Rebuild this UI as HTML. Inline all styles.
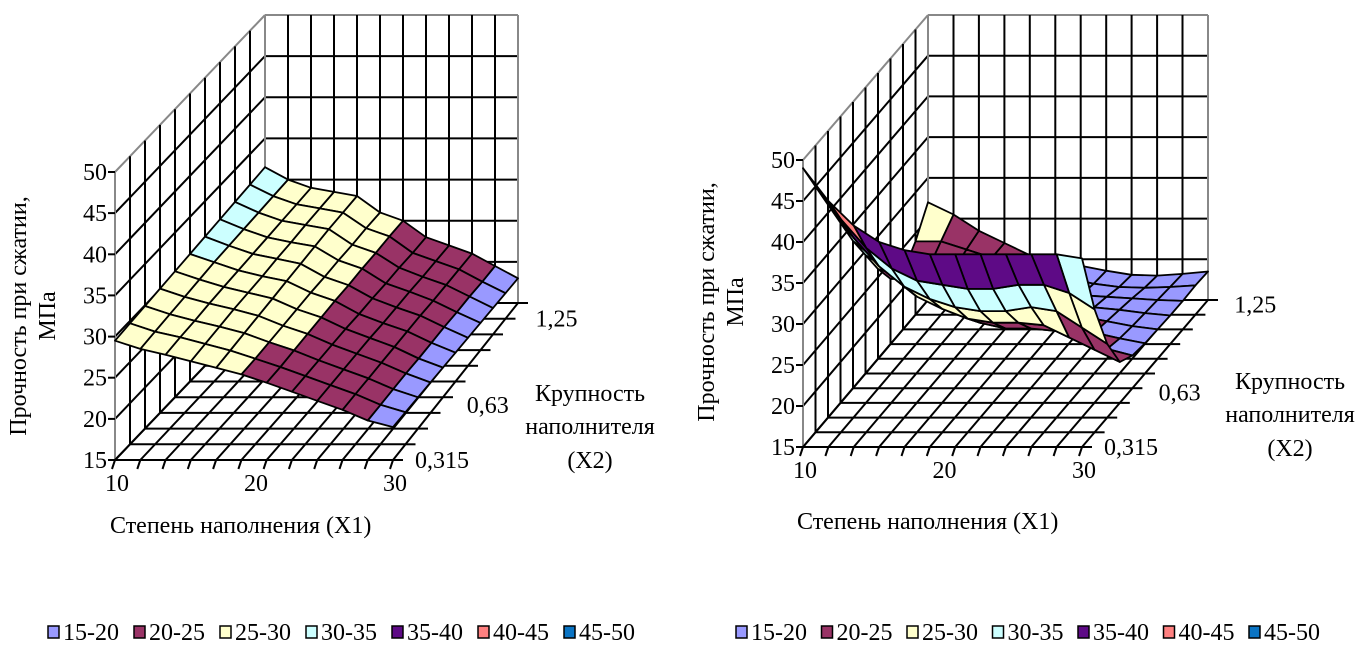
<!DOCTYPE html>
<html><head><meta charset="utf-8">
<style>
html,body{margin:0;padding:0;background:#fff;}
svg{display:block;}
text{font-family:"Liberation Serif","DejaVu Serif",serif;fill:#000;}
</style></head>
<body>
<svg id="root" width="1367" height="654" viewBox="0 0 1367 654" xmlns="http://www.w3.org/2000/svg">
<g id="left"></g>
<g id="right"></g>
</svg>
<script>
// ---- data ----
const zTicks = [15,20,25,30,35,40,45,50];
const x1Labels = ["10","20","30"];
const x2Labels = ["0,315","0,63","1,25"];
const bandLabels = ["15-20","20-25","25-30","30-35","35-40","40-45","45-50"];
const bandColors = ["#9999ff","#993366","#ffffcc","#ccffff","#5e0a86","#ff8080","#0a74c4"];
// rows: X2 from front (0,315) to back (1,25); columns: X1 from 10 to 30
const leftValues = [
 [29.5,28.5,27.8,27,26.2,25.4,24.4,23.3,22.2,21.1,19.8,19],
 [29.7,28.7,28,27.2,26.4,25.4,24.4,23.3,22.2,21.1,19.8,18.9],
 [29.9,28.9,28.1,27.4,26.6,25.5,24.5,23.3,22.2,21.1,19.8,18.8],
 [30.1,29.1,28.3,27.6,26.8,25.6,24.6,23.3,22.2,21.1,19.8,18.7],
 [30.3,29.3,28.4,27.7,27,25.7,24.7,23.3,22.2,21.1,19.7,18.6],
 [30.5,29.5,28.5,27.8,27.2,25.8,24.8,23.2,22.1,21.1,19.7,18.5],
 [30.7,29.6,28.6,28,27.4,25.8,24.8,23.2,22.1,21.1,19.7,18.4],
 [30.9,29.7,28.7,28.1,27.6,25.9,24.9,23.1,22.1,21,19.6,18.3],
 [31.1,29.8,28.8,28.3,27.8,25.9,24.9,23.1,22,21,19.6,18.2],
 [31.3,29.9,28.9,28.4,27.9,26,25,23,22,21,19.5,18.1],
 [31.5,30,29,28.5,28,26,25,23,22,21,19.5,18]
];
const rightValues = [
 [49,45,42,40,39,38.5,38.5,38.5,38.5,38.5,38.5,38],
 [45,41,37.5,35,33.5,33,32.5,32.5,33,33,32,30],
 [41,37,33.5,31,29.5,28.5,28,28,28.5,28,26,24],
 [37,33.5,30.5,28,26.5,25.3,24.8,24.8,24.5,23,21.5,20],
 [33,30.5,28,26,24.3,23,22.3,22.3,22,21,19.8,19],
 [29.5,27.5,25.5,24,22.8,21.8,21.2,21.2,20.8,20,19.3,18.7],
 [26,25,24,23,22,21.3,20.7,20.5,20.2,19.6,19,18.6],
 [23,23,22.5,22,21.3,20.7,20.2,19.8,19.5,19.2,18.8,18.5],
 [22,22.5,22.3,21.8,21,20.4,19.8,19.2,19,18.8,18.6,18.5],
 [24,24,23,22,21,20.2,19.5,18.8,18.4,18.3,18.4,18.6],
 [27,25.5,23.5,22,20.5,19.8,19.2,18.6,18.1,18,18.2,18.5]
];
const zMin = 15, zMax = 50;

const NS = "http://www.w3.org/2000/svg";
function mk(parent, tag, attrs){
  const e = document.createElementNS(NS, tag);
  for (const k in attrs) e.setAttribute(k, attrs[k]);
  parent.appendChild(e);
  return e;
}
function colorFor(v){
  let i = Math.floor((v - zMin) / 5);
  if (i < 0) i = 0; if (i > bandColors.length-1) i = bandColors.length-1;
  return bandColors[i];
}

function drawChart(g, cfg, values){
  const F0L=cfg.F0L, F0R=cfg.F0R, F1L=cfg.F1L, B0L=cfg.B0L, B0R=cfg.B0R, B1L=cfg.B1L;
  const h = [F1L[0]-F0L[0], F1L[1]-F0L[1]];
  const hb = [B1L[0]-B0L[0], B1L[1]-B0L[1]];
  function P(u,v,w){
    const fx = F0L[0]+(F0R[0]-F0L[0])*u + h[0]*w, fy = F0L[1]+(F0R[1]-F0L[1])*u + h[1]*w;
    const bx = B0L[0]+(B0R[0]-B0L[0])*u + hb[0]*w, by = B0L[1]+(B0R[1]-B0L[1])*u + hb[1]*w;
    return [fx+(bx-fx)*v, fy+(by-fy)*v];
  }
  const zw = z => (z - zMin) / (zMax - zMin);
  const nU = values[0].length - 1, nV = values.length - 1;
  const line = (a,b,stroke,sw,name) => {
    const l = mk(g,"line",{x1:a[0].toFixed(1),y1:a[1].toFixed(1),x2:b[0].toFixed(1),y2:b[1].toFixed(1),stroke:stroke,"stroke-width":sw});
    
    
    return l;
  };
  for (const z of zTicks) line(P(0,1,zw(z)),P(1,1,zw(z)),(z===zMax||z===zMin)?"#888":"#000",2,"back-wall-gridline");
  for (let i=0;i<=nU;i++) line(P(i/nU,1,0),P(i/nU,1,1),(i===0||i===nU)?"#888":"#000",2,"back-wall-gridline");
  for (const z of zTicks) line(P(0,0,zw(z)),P(0,1,zw(z)),z===zMax?"#888":"#000",2,"side-wall-gridline");
  for (let j=0;j<=nV;j++) line(P(0,j/nV,0),P(0,j/nV,1),(j===0||j===nV)?"#888":"#000",2,"side-wall-gridline");
  for (let i=0;i<=nU;i++) line(P(i/nU,0,0),P(i/nU,1,0),"#000",2,"floor-gridline");
  for (let j=0;j<=nV;j++) line(P(0,j/nV,0),P(1,j/nV,0),"#000",2,"floor-gridline");
  for (const z of zTicks){ const p=P(0,0,zw(z)); line([p[0]-7,p[1]],p,"#000",2,"z-axis-tick"); }
  for (let i=0;i<=nU;i++){ const p=P(i/nU,0,0); line(p,[p[0]-3,p[1]+9],"#000",2,"x1-axis-tick"); }
  for (let j=0;j<=nV;j++){ const p=P(1,j/nV,0); line(p,[p[0]+10,p[1]],"#000",2,"x2-axis-tick"); }
  const sg = mk(g,"g",{});
  
  
  for (let j=nV-1;j>=0;j--){
    for (let i=nU-1;i>=0;i--){
      const a=values[j][i], b=values[j][i+1], c=values[j+1][i+1], d=values[j+1][i];
      const pts=[P(i/nU,j/nV,zw(a)),P((i+1)/nU,j/nV,zw(b)),P((i+1)/nU,(j+1)/nV,zw(c)),P(i/nU,(j+1)/nV,zw(d))];
      const poly = mk(sg,"polygon",{points:pts.map(p=>p[0].toFixed(1)+","+p[1].toFixed(1)).join(" "),fill:colorFor((a+b+c+d)/4),stroke:"#000","stroke-width":1.8,"stroke-linejoin":"round"});
      
      
    }
  }
  const txt=(x,y,s,anchor,name,size)=>{
    const t=mk(g,"text",{x:x,y:y,"text-anchor":anchor,"font-size":size||24});
    t.textContent=s;
    
    
    return t;
  };
  for (const z of zTicks){ const p=P(0,0,zw(z)); txt(p[0]-8,p[1]+8,String(z),"end","z-tick-label"); }
  x1Labels.forEach((s,k)=>{ const p=P(k/(x1Labels.length-1),0,0); txt(p[0]+2,p[1]+31,s,"middle","x1-tick-label"); });
  x2Labels.forEach((s,k)=>{ const p=P(1,cfg.x2Pos[k],0); txt(p[0]+(k===0?22:30),p[1]+8,s,"start","x2-tick-label"); });
  txt(cfg.x1Title[0],cfg.x1Title[1],"Степень наполнения (X1)","start","x1-axis-title");
  const t2=cfg.x2Title;
  txt(t2[0],t2[1],"Крупность","middle","x2-axis-title");
  txt(t2[0],t2[1]+33,"наполнителя","middle","x2-axis-title");
  txt(t2[0],t2[1]+67,"(X2)","middle","x2-axis-title");
  const yt=cfg.yTitle;
  const ty=mk(g,"text",{x:0,y:0,"text-anchor":"middle","font-size":24,transform:`translate(${yt[0]},${yt[1]}) rotate(-90)`});
  ty.textContent="Прочность при сжатии,";
  
  
  const ty2=mk(g,"text",{x:0,y:0,"text-anchor":"middle","font-size":24,transform:`translate(${yt[0]+29},${yt[1]}) rotate(-90)`});
  ty2.textContent="МПа";
  
  
  const lg=mk(g,"g",{});
  
  
  bandLabels.forEach((s,k)=>{
    const x=cfg.legendX+k*cfg.legendStep;
    const r=mk(lg,"rect",{x:x,y:626,width:11,height:12,fill:bandColors[k],stroke:"#000","stroke-width":1.5});
    
    
    const t=mk(lg,"text",{x:x+15,y:640,"font-size":24});
    t.textContent=s;
    
    
  });
}

drawChart(document.getElementById('left'),{
  F0L:[115,460],F0R:[393,460],F1L:[115,172],B0L:[265,303],B0R:[518,303],B1L:[265,15],
  x2Pos:[0,0.35,0.9],
  x1Title:[110,533], x2Title:[590,401], yTitle:[26,316], legendX:48, legendStep:86
}, leftValues);
drawChart(document.getElementById('right'),{
  F0L:[803,447],F0R:[1082,447],F1L:[803,160],B0L:[928,300],B0R:[1208,300],B1L:[928,15],
  x2Pos:[0,0.37,0.97],
  x1Title:[797,529], x2Title:[1290,389], yTitle:[714,302], legendX:736, legendStep:85.5
}, rightValues);
</script>
</body></html>
